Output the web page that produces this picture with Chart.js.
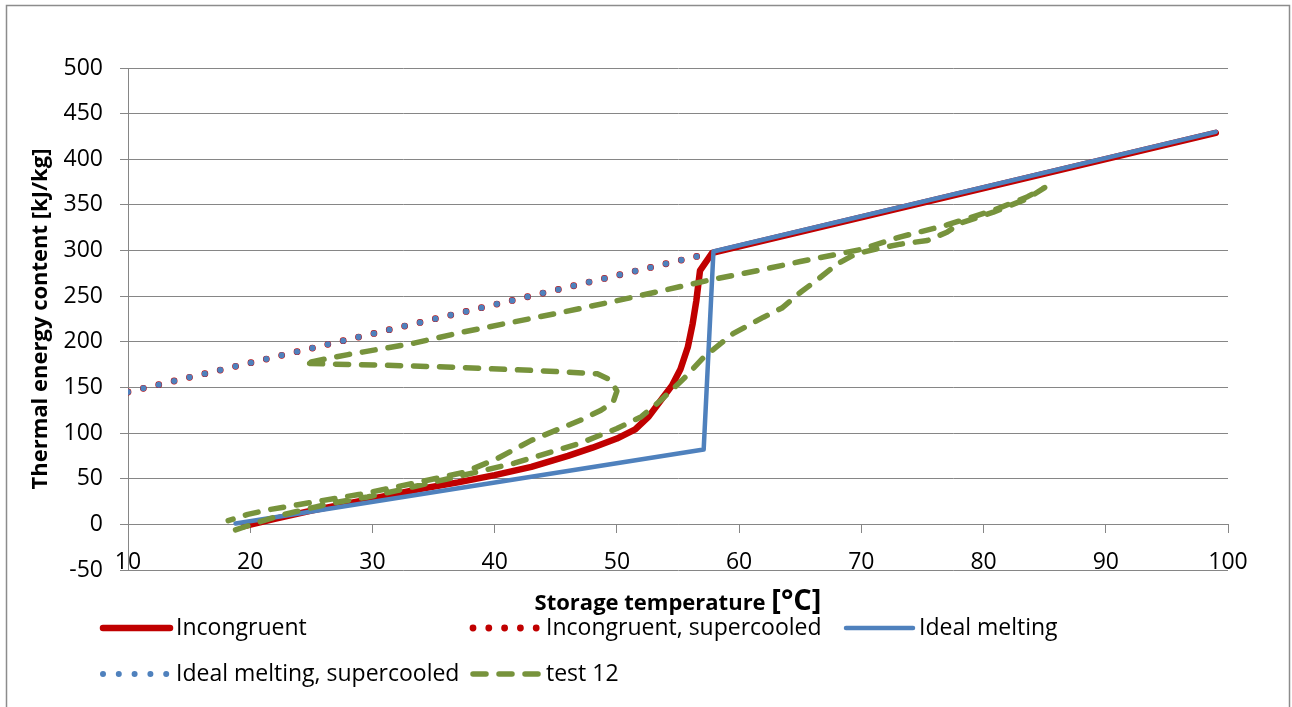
<!DOCTYPE html>
<html>
<head>
<meta charset="utf-8">
<script src="https://cdn.jsdelivr.net/npm/chart.js@4.4.0/dist/chart.umd.min.js"></script>
<style>
  html, body { margin: 0; padding: 0; background: #fff; }
  #wrap { position: relative; width: 1292px; height: 707px; }
</style>
</head>
<body>
<div id="wrap"><canvas id="chart" width="1292" height="707"></canvas></div>
<script>
const seriesNames = ['Incongruent', 'Incongruent, supercooled', 'Ideal melting', 'Ideal melting, supercooled', 'test 12'];

// storage temperature [°C] / thermal energy content [kJ/kg]
const incongruentT = [19.5, 22, 25, 28, 31, 34, 37, 40, 43, 46, 48, 50, 51.5, 52.6, 53.6, 54.5, 55.2, 55.8, 56.2, 56.5, 56.8, 57.8, 99];
const incongruentE = [-2, 6, 15, 23, 31, 39, 46, 54, 63, 75, 84, 94, 104, 118, 136, 152, 170, 194, 220, 245, 278, 297.5, 429];

const incongruentSupercooledT = [10, 57.6];
const incongruentSupercooledE = [145, 297];

const idealT = [18.8, 57.1, 57.9, 99];
const idealE = [1, 82, 299, 430];

const idealSupercooledT = [10, 57.6];
const idealSupercooledE = [145, 297];

const test12T = [18.8, 20.6, 22.5, 24.7, 26.6, 29.6, 32, 36.2, 41.6, 47, 50, 52, 53.6, 55.5, 57.1, 59.5, 62, 63.5, 65, 66.4, 68, 69.5, 71.3, 73.2, 75.4, 77, 78.1, 80.8, 83.6, 85,
  83.6, 80.8, 77, 73.2, 69.9, 65, 61.7, 57.7, 50, 45.4, 37.5, 33.4, 28, 24.4,
  27, 30.7, 36, 41.6, 45, 48.4, 49.5, 50, 49.7, 48.7, 47, 43, 40.2, 37.5, 33, 29, 25, 21.5, 19.8, 18.2];
const test12E = [-6, 2, 10, 17, 23, 30, 37, 50, 67, 89, 105, 118, 136, 160, 183, 209, 227, 237, 254, 268, 285, 296, 302, 307, 311, 320, 330, 342, 357, 369,
  359, 344, 328, 315, 301, 288, 278.5, 268, 245, 232, 211, 198.5, 186, 176.5,
  175.5, 174.5, 172.5, 169.5, 167.5, 165, 158, 146, 134, 125, 114, 92, 72, 57, 44, 33, 24, 16, 11, 4];

const xTicks = { min: 10, max: 100, step: 10 };
const yTicks = { min: -50, max: 500, step: 50 };

const RED = '#C00000';
const BLUE = '#4F81BD';
const GREEN = '#77933C';
const GRID = '#868686';
const FONT = '"Open Sans"';

function toPoints(xs, ys) {
  return xs.map((x, i) => ({ x, y: ys[i] }));
}

const legendSlots = [
  { x: 100, y: 628 }, { x: 470, y: 628 }, { x: 843, y: 628 },
  { x: 100, y: 674 }, { x: 470, y: 674 }
];

const excelDecor = {
  id: 'excelDecor',
  afterDraw(chart) {
    const { ctx, chartArea } = chart;
    ctx.save();
    // outer frame
    ctx.strokeStyle = '#8c8c8c';
    ctx.lineWidth = 1.5;
    ctx.strokeRect(6.5, 5.5, 1283, 704);

    // x axis title, the unit part is set larger
    const part1 = 'Storage temperature ';
    const part2 = '[°C]';
    ctx.fillStyle = '#000';
    ctx.textBaseline = 'alphabetic';
    ctx.font = `bold 22px ${FONT}`;
    const w1 = ctx.measureText(part1).width;
    ctx.font = `bold 29px ${FONT}`;
    const w2 = ctx.measureText(part2).width;
    const cx = (chartArea.left + chartArea.right) / 2;
    const tx = cx - (w1 + w2) / 2;
    ctx.font = `bold 22px ${FONT}`;
    ctx.fillText(part1, tx, 610);
    ctx.font = `bold 29px ${FONT}`;
    ctx.fillText(part2, tx + w1, 610);

    // legend
    chart.data.datasets.forEach((ds, i) => {
      const slot = legendSlots[i];
      ctx.beginPath();
      ctx.strokeStyle = ds.borderColor;
      ctx.lineWidth = ds.borderWidth;
      ctx.lineCap = ds.borderCapStyle || 'butt';
      ctx.setLineDash(ds.borderDash || []);
      ctx.moveTo(slot.x + 3, slot.y);
      ctx.lineTo(slot.x + 70, slot.y);
      ctx.stroke();
      ctx.setLineDash([]);
      ctx.font = `23px ${FONT}`;
      ctx.textBaseline = 'middle';
      ctx.fillStyle = '#000';
      ctx.fillText(ds.label, slot.x + 76, slot.y);
    });
    ctx.restore();
  }
};

new Chart(document.getElementById('chart'), {
  type: 'scatter',
  data: {
    datasets: [
      {
        label: seriesNames[0],
        data: toPoints(incongruentT, incongruentE),
        borderColor: RED, borderWidth: 6.5, borderCapStyle: 'round', borderJoinStyle: 'round',
        order: 5
      },
      {
        label: seriesNames[1],
        data: toPoints(incongruentSupercooledT, incongruentSupercooledE),
        borderColor: RED, borderWidth: 6.8, borderDash: [0, 15.8], borderCapStyle: 'round',
        order: 4
      },
      {
        label: seriesNames[2],
        data: toPoints(idealT, idealE),
        borderColor: BLUE, borderWidth: 4.5, borderCapStyle: 'round', borderJoinStyle: 'round',
        order: 3
      },
      {
        label: seriesNames[3],
        data: toPoints(idealSupercooledT, idealSupercooledE),
        borderColor: BLUE, borderWidth: 6, borderDash: [0, 15.8], borderCapStyle: 'round',
        order: 2
      },
      {
        label: seriesNames[4],
        data: toPoints(test12T, test12E),
        borderColor: GREEN, borderWidth: 5.5, borderDash: [13, 13], borderCapStyle: 'round', borderJoinStyle: 'round',
        order: 1
      }
    ].map(ds => ({ ...ds, showLine: true, pointRadius: 0, pointHoverRadius: 0, fill: false, tension: 0 }))
  },
  options: {
    responsive: false,
    animation: false,
    events: [],
    layout: { padding: { left: 8, right: 64, top: 68, bottom: 137 } },
    plugins: {
      legend: { display: false },
      tooltip: { enabled: false }
    },
    scales: {
      x: {
        type: 'linear',
        position: { y: 0 },
        min: xTicks.min,
        max: xTicks.max,
        ticks: { stepSize: xTicks.step, padding: 16, color: '#000', font: { family: FONT, size: 23 } },
        grid: { drawOnChartArea: false, drawTicks: true, tickLength: 8, color: GRID },
        border: { color: GRID }
      },
      y: {
        type: 'linear',
        min: yTicks.min,
        max: yTicks.max,
        ticks: { stepSize: yTicks.step, padding: 17, color: '#000', font: { family: FONT, size: 23 } },
        grid: { color: GRID, tickLength: 8 },
        border: { color: GRID },
        title: {
          display: true,
          text: 'Thermal energy content [kJ/kg]',
          color: '#000',
          font: { family: FONT, size: 22, weight: 'bold' },
          padding: { top: 20, bottom: 0 }
        },
        afterFit(scale) { scale.width = 120; }
      }
    }
  },
  plugins: [excelDecor]
});
</script>
</body>
</html>
